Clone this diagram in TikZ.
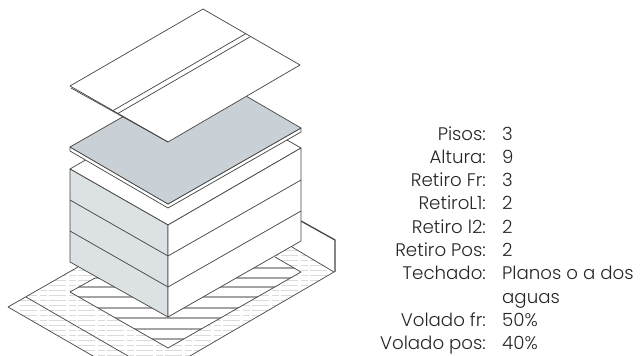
\documentclass[tikz,border=0pt]{standalone}
\usepackage{fontspec}
\setmainfont{Poppins Light}
\definecolor{slabgrey}{HTML}{C9D1D6}
\definecolor{wallgrey}{HTML}{DCE1E4}
\definecolor{inkgrey}{HTML}{444444}
\definecolor{bargrey}{HTML}{A4A4A4}
\tikzset{
	edge/.style = {draw = inkgrey, line width = 0.7pt, line join = round},
	fieldname/.style = {anchor = base east, inner sep = 0pt, font = \fontsize{18.2}{20}\selectfont, text = black!85},
	fieldvalue/.style = {anchor = base west, inner sep = 0pt, font = \fontsize{18.2}{20}\selectfont, text = black!85}
}
\begin{document}
\begin{tikzpicture}[x = 1pt, y = -1pt]
		\useasboundingbox (0, 0) rectangle (640, 356) ;
		\begin{scope} % Lot
			\clip (8, 307) -- (93, 356) -- (190, 356) -- (334, 272) -- (292, 247) -- (78, 267) -- cycle ;
			\foreach \y in {250, 255, ..., 356}{
				\draw [black!14, line width = 0.6pt, dash pattern = on 17pt off 3pt on 7pt off 2pt] (20, \y) -- (334, \y) ;
			}
		\end{scope}
		\begin{scope} % Setback area
			\fill [white] (70, 292) -- (168, 348) -- (301, 272) -- (203, 216) -- cycle ;
			\clip (70, 292) -- (168, 348) -- (301, 272) -- (203, 216) -- cycle ;
			\foreach \y in {268, 278, 287, 297, 308, 318, 329, 339}{
				\draw [bargrey, line width = 2.4pt] (60, \y) -- (310, \y) ;
			}
		\end{scope}
		\draw [edge] (95, 278) -- (70, 292) -- (168, 348) -- (301, 272) -- (275, 257) ;
		\draw [edge] (78, 267) -- (8, 307) -- (93, 356) ;
		\draw [edge] (26, 297) -- (128, 356) ;
		\draw [edge] (190, 356) -- (334, 272) -- (292, 247) ;
		\draw [edge, line width = 1.3pt] (301, 221) -- (335, 240) -- (335, 272) ;
		\begin{scope} % Building
			\draw [edge, fill = white] (70, 169) -- (203, 92) -- (301, 148) -- (168, 225) -- cycle ;
			\draw [edge, fill = wallgrey] (70, 169) -- (168, 225) -- (168, 317) -- (70, 262) -- cycle ;
			\draw [edge, fill = white] (168, 225) -- (301, 148) -- (301, 241) -- (168, 317) -- cycle ;
			\foreach \a/\b/\c in {200/256/180, 231/287/211}{
				\draw [edge] (70, \a) -- (168, \b) -- (301, \c) ;
			}
		\end{scope}
		\begin{scope} % Slab
			\draw [edge, fill = white] (70, 147) -- (70, 151) -- (168, 208) -- (301, 132) -- (301, 128) -- (168, 204) -- cycle ;
			\draw [edge, fill = slabgrey] (70, 147) -- (203, 71) -- (301, 128) -- (168, 204) -- cycle ;
		\end{scope}
		\begin{scope} % Roof
			\draw [edge, fill = white] (203, 9) -- (300, 65) -- (168, 142) -- (70, 86) -- cycle ;
			\draw [edge] (71, 88) -- (168, 142) ;
			\draw [edge] (113, 110.6) -- (245.8, 33.7) ;
			\draw [edge] (118, 113.4) -- (250.7, 36.5) ;
		\end{scope}
		\foreach \n/\name/\val in {0/Pisos:/3, 1/Altura:/9, 2/Retiro Fr:/3, 3/RetiroL1:/2, 4/Retiro l2:/2, 5/Retiro Pos:/2, 6/Techado:/Planos o a dos, 8/Volado fr:/50\%, 9/Volado pos:/40\%}{
			\node [fieldname] (name\n) at (486, 140 + \n*23.3) {\name} ;
			\node [fieldvalue] (val\n) at (502, 140 + \n*23.3) {\val} ;
		}
		\node [fieldvalue] (val7) at (502, 303.1) {aguas} ;
	\end{tikzpicture}
\end{document}
